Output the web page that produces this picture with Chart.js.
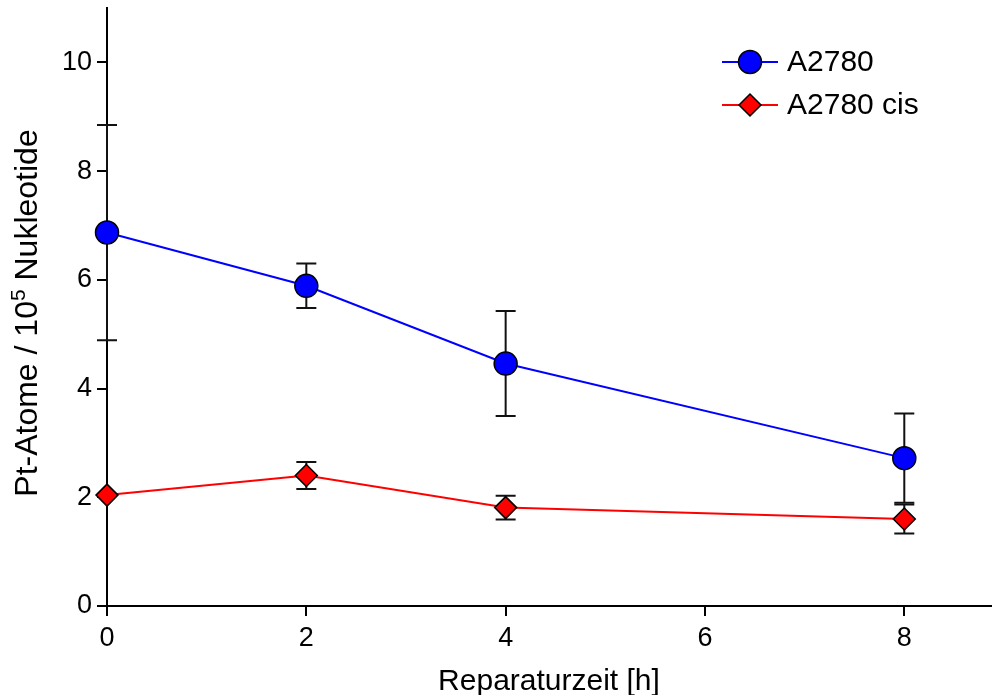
<!DOCTYPE html>
<html>
<head>
<meta charset="utf-8">
<script src="https://cdn.jsdelivr.net/npm/chart.js@4/dist/chart.umd.min.js"></script>
<style>
  html, body { margin: 0; padding: 0; background: #fff; }
  #box { width: 992px; height: 695px; position: relative; }
</style>
</head>
<body>
<div id="box"><canvas id="repairChart"></canvas></div>
<script>
// values
var times = [0, 2, 4, 8];
var a2780 = [6.87, 5.89, 4.46, 2.72];
var a2780Err = [1.98, 0.41, 0.965, 0.82];
var a2780cis = [2.04, 2.40, 1.81, 1.60];
var a2780cisErr = [0, 0.25, 0.22, 0.265];
var xTicks = [0, 2, 4, 6, 8];
var yTicks = [0, 2, 4, 6, 8, 10];
var labels = ['A2780', 'A2780 cis'];

var FONT = "'Liberation Sans', Arial, sans-serif";

function toPoints(xs, ys){
    var out = [];
    for(var i = 0; i < xs.length; i++){
        out.push({x: xs[i], y: ys[i]});
    }
    return out;
}

// error bars, drawn under the markers
var errorBars = {
    id: 'errorBars',
    beforeDatasetsDraw: function(chart){
        var c = chart.ctx;
        var xs = chart.scales.x, ys = chart.scales.y;
        c.save();
        c.strokeStyle = '#111';
        c.lineWidth = 2;
        chart.data.datasets.forEach(function(ds){
            if(!ds.err) return;
            ds.data.forEach(function(p, i){
                var e = ds.err[i];
                if(!e) return;
                var px = xs.getPixelForValue(p.x);
                var top = ys.getPixelForValue(p.y + e);
                var bot = ys.getPixelForValue(p.y - e);
                c.beginPath();
                c.moveTo(px, top); c.lineTo(px, bot);
                c.moveTo(px - 10, top); c.lineTo(px + 10, top);
                c.moveTo(px - 10, bot); c.lineTo(px + 10, bot);
                c.stroke();
            });
        });
        c.restore();
    }
};

// y title with superscript and the line+marker legend
var extras = {
    id: 'extras',
    afterDraw: function(chart){
        var c = chart.ctx;
        c.save();
        // y axis title
        var part1 = 'Pt-Atome / 10', sup = '5', part2 = ' Nukleotide';
        c.font = '32px ' + FONT;
        var w1 = c.measureText(part1).width;
        var w3 = c.measureText(part2).width;
        c.font = '21px ' + FONT;
        var w2 = c.measureText(sup).width;
        var total = w1 + w2 + w3;
        c.translate(37, 313);
        c.rotate(-Math.PI / 2);
        c.fillStyle = '#000';
        c.textBaseline = 'alphabetic';
        c.textAlign = 'left';
        var sx = -total / 2;
        c.font = '32px ' + FONT;
        c.fillText(part1, sx, 0);
        c.font = '21px ' + FONT;
        c.fillText(sup, sx + w1, -12);
        c.font = '32px ' + FONT;
        c.fillText(part2, sx + w1 + w2, 0);
        c.restore();

        // legend
        c.save();
        var rows = [62, 105];
        chart.data.datasets.forEach(function(ds, i){
            var y = rows[i];
            c.strokeStyle = ds.borderColor;
            c.lineWidth = 2;
            c.beginPath();
            c.moveTo(722, y); c.lineTo(778, y);
            c.stroke();
            c.fillStyle = ds.pointBackgroundColor;
            c.strokeStyle = ds.pointBorderColor;
            c.lineWidth = ds.pointBorderWidth;
            Chart.helpers.drawPoint(c, {
                pointStyle: ds.pointStyle,
                radius: ds.pointRadius,
                borderWidth: ds.pointBorderWidth,
                rotation: 0
            }, 750, y);
            c.fillStyle = '#000';
            c.font = '30px ' + FONT;
            c.textAlign = 'left';
            c.textBaseline = 'middle';
            c.fillText(ds.label, 787, y + 1);
        });
        c.restore();
    }
};

new Chart(document.getElementById('repairChart').getContext('2d'), {
    type: 'scatter',
    data: {
        datasets: [{
            label: labels[0],
            data: toPoints(times, a2780),
            err: a2780Err,
            showLine: true,
            borderColor: '#0000ff',
            borderWidth: 2,
            pointStyle: 'circle',
            pointRadius: 11.5,
            pointHoverRadius: 11.5,
            pointBackgroundColor: '#0000ff',
            pointBorderColor: '#000',
            pointBorderWidth: 1.5,
            clip: false
        }, {
            label: labels[1],
            data: toPoints(times, a2780cis),
            err: a2780cisErr,
            showLine: true,
            borderColor: '#ff0000',
            borderWidth: 2,
            pointStyle: 'rectRot',
            pointRadius: 11,
            pointHoverRadius: 11,
            pointBackgroundColor: '#ff0000',
            pointBorderColor: '#000',
            pointBorderWidth: 1.5,
            clip: false
        }]
    },
    options: {
        responsive: true,
        maintainAspectRatio: false,
        animation: false,
        layout: { autoPadding: false, padding: { top: 8, right: 1, left: 0, bottom: 0 } },
        plugins: {
            legend: { display: false },
            tooltip: { enabled: false }
        },
        scales: {
            x: {
                type: 'linear',
                min: 0,
                max: 8.87,
                afterBuildTicks: function(s){ s.ticks = xTicks.map(function(v){ return {value: v}; }); },
                afterFit: function(s){ s.height = 89; s.paddingLeft = 0; s.paddingRight = 0; },
                border: { color: '#000', width: 2 },
                grid: { drawOnChartArea: false, color: '#000', lineWidth: 2, tickLength: 10 },
                ticks: { color: '#000', padding: 6, maxRotation: 0, font: { family: FONT, size: 27 } },
                title: {
                    display: true,
                    text: 'Reparaturzeit [h]',
                    color: '#000',
                    padding: { top: 0, bottom: -5 },
                    font: { family: FONT, size: 30 }
                }
            },
            y: {
                min: 0,
                max: 11,
                afterBuildTicks: function(s){ s.ticks = yTicks.map(function(v){ return {value: v}; }); },
                afterFit: function(s){ s.width = 107; s.paddingTop = 0; s.paddingBottom = 0; },
                border: { color: '#000', width: 2 },
                grid: { drawOnChartArea: false, color: '#000', lineWidth: 2, tickLength: 10 },
                ticks: { color: '#000', padding: 5, font: { family: FONT, size: 27 } }
            }
        }
    },
    plugins: [errorBars, extras]
});
</script>
</body>
</html>
